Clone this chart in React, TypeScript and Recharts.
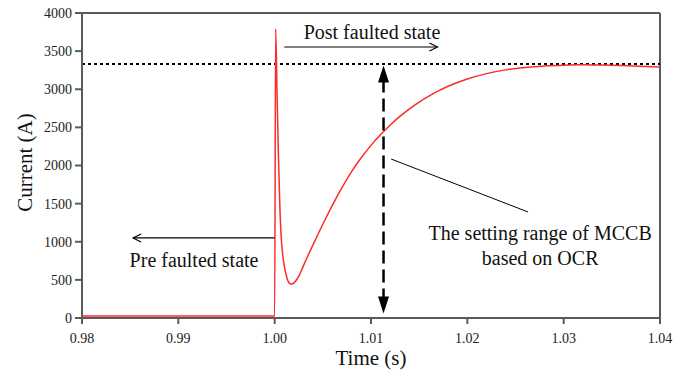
import React from 'react';
import {
  LineChart,
  Line,
  XAxis,
  YAxis,
  ReferenceLine,
  ReferenceDot,
} from 'recharts';

// time (s) and current (A)
const time = [
  0.98, 0.99, 1.0, 1.0001, 1.00025, 1.0004, 1.00055, 1.0007, 1.00085, 1.001,
  1.0012, 1.0014, 1.0016, 1.0018, 1.002, 1.0025, 1.003, 1.004, 1.005, 1.006,
  1.007, 1.008, 1.009, 1.01, 1.011, 1.012, 1.013, 1.014, 1.015, 1.016, 1.017,
  1.018, 1.02, 1.022, 1.024, 1.026, 1.028, 1.03, 1.032, 1.034, 1.036, 1.038,
  1.04,
];
const current = [
  25, 25, 25, 3790, 2930, 2080, 1420, 1020, 820, 680, 560, 480, 448, 445, 460,
  545, 690, 965, 1230, 1480, 1712, 1924, 2104, 2264, 2406, 2532, 2644, 2743,
  2831, 2909, 2978, 3039, 3135, 3205, 3254, 3286, 3305, 3315, 3320, 3318, 3312,
  3302, 3292,
];

const xTicks = [0.98, 0.99, 1.0, 1.01, 1.02, 1.03, 1.04];
const yTicks = [0, 500, 1000, 1500, 2000, 2500, 3000, 3500, 4000];

const settingLevel = 3330;
const settingTime = 1.0113;
const faultTime = 1.0;

const data = time.map((t, i) => ({ t, current: current[i] }));

const FONT = '"Liberation Serif", "Times New Roman", serif';
const AXIS = '#5a5a5a';

// thin arrow with open head at the (x2, y2) end
const OpenArrow = (p: any) => {
  const dir = p.x2 > p.x1 ? 1 : -1;
  return (
    <g stroke="#000" strokeWidth={1.2} fill="none">
      <line x1={p.x1} y1={p.y1} x2={p.x2} y2={p.y2} />
      <polyline
        points={`${p.x2 - dir * 8},${p.y2 - 4} ${p.x2},${p.y2} ${p.x2 - dir * 8},${p.y2 + 4}`}
      />
    </g>
  );
};

// long dashed vertical double arrow
const DoubleArrow = (p: any) => {
  const top = Math.min(p.y1, p.y2);
  const bot = Math.max(p.y1, p.y2);
  const x = p.x1;
  return (
    <g>
      <line
        x1={x}
        y1={top + 14}
        x2={x}
        y2={bot - 14}
        stroke="#000"
        strokeWidth={2.5}
        strokeDasharray="13 6"
      />
      <polygon points={`${x},${top} ${x - 5.5},${top + 17} ${x + 5.5},${top + 17}`} fill="#000" />
      <polygon points={`${x},${bot} ${x - 5.5},${bot - 17} ${x + 5.5},${bot - 17}`} fill="#000" />
    </g>
  );
};

const Leader = (p: any) => (
  <line x1={p.x1} y1={p.y1} x2={p.x2} y2={p.y2} stroke="#000" strokeWidth={1} />
);

const textAt = (label: string) => (p: any) => (
  <text x={p.cx} y={p.cy} textAnchor="middle" style={{ fontFamily: FONT }} fontSize={20} fill="#111">
    {label}
  </text>
);

export default function App() {
  return (
    <div style={{ position: 'absolute', left: 0, top: 0, background: '#fff' }}>
      <LineChart
        width={695}
        height={374}
        data={data}
        margin={{ top: 13, right: 35, bottom: 0, left: 0 }}
      >
        <XAxis
          dataKey="t"
          type="number"
          domain={[0.98, 1.04]}
          ticks={xTicks}
          allowDataOverflow
          tickFormatter={(v: number) => v.toFixed(2)}
          height={56}
          stroke={AXIS}
          strokeWidth={2}
          tickSize={6}
          tickMargin={9}
          tick={{ fontFamily: FONT, fontSize: 14, fill: '#222' }}
          label={(props: any) => {
            const vb = props.viewBox;
            return (
              <text
                x={vb.x + vb.width / 2}
                y={vb.y + 47}
                textAnchor="middle"
                style={{ fontFamily: FONT }}
                fontSize={21}
                fill="#111"
              >
                Time (s)
              </text>
            );
          }}
        />
        <YAxis
          type="number"
          domain={[0, 4000]}
          ticks={yTicks}
          width={82}
          stroke={AXIS}
          strokeWidth={2}
          tickSize={7}
          tickMargin={3}
          tick={{ fontFamily: FONT, fontSize: 14, fill: '#222' }}
          label={(props: any) => {
            const vb = props.viewBox;
            const cx = vb.x + 25;
            const cy = vb.y + vb.height / 2 - 3;
            return (
              <text
                x={cx}
                y={cy}
                transform={`rotate(-90 ${cx} ${cy})`}
                textAnchor="middle"
                dominantBaseline="central"
                style={{ fontFamily: FONT }}
                fontSize={21}
                fill="#111"
              >
                Current (A)
              </text>
            );
          }}
        />
        <ReferenceLine y={4000} stroke={AXIS} strokeWidth={2} />
        <ReferenceLine x={1.04} stroke={AXIS} strokeWidth={2} />
        <ReferenceLine
          y={settingLevel}
          stroke="#000"
          strokeWidth={2}
          strokeDasharray="3 3"
        />
        <Line
          dataKey="current"
          type="monotone"
          stroke="#ff2a2a"
          strokeWidth={1.5}
          dot={false}
          isAnimationActive={false}
        />
        <ReferenceLine
          segment={[
            { x: settingTime, y: settingLevel - 20 },
            { x: settingTime, y: 60 },
          ]}
          shape={DoubleArrow}
        />
        <ReferenceLine
          segment={[
            { x: faultTime + 0.001, y: 3554 },
            { x: 1.0169, y: 3554 },
          ]}
          shape={OpenArrow}
        />
        <ReferenceLine
          segment={[
            { x: faultTime, y: 1050 },
            { x: 0.9853, y: 1050 },
          ]}
          shape={OpenArrow}
        />
        <ReferenceLine
          segment={[
            { x: 1.01209, y: 2085 },
            { x: 1.02631, y: 1390 },
          ]}
          shape={Leader}
        />
        <ReferenceDot x={1.0101} y={3659} r={0} shape={textAt('Post faulted state')} />
        <ReferenceDot x={0.99163} y={669} r={0} shape={textAt('Pre faulted state')} />
        <ReferenceDot x={1.02756} y={1023} r={0} shape={textAt('The setting range of MCCB')} />
        <ReferenceDot x={1.02756} y={695} r={0} shape={textAt('based on OCR')} />
      </LineChart>
    </div>
  );
}
